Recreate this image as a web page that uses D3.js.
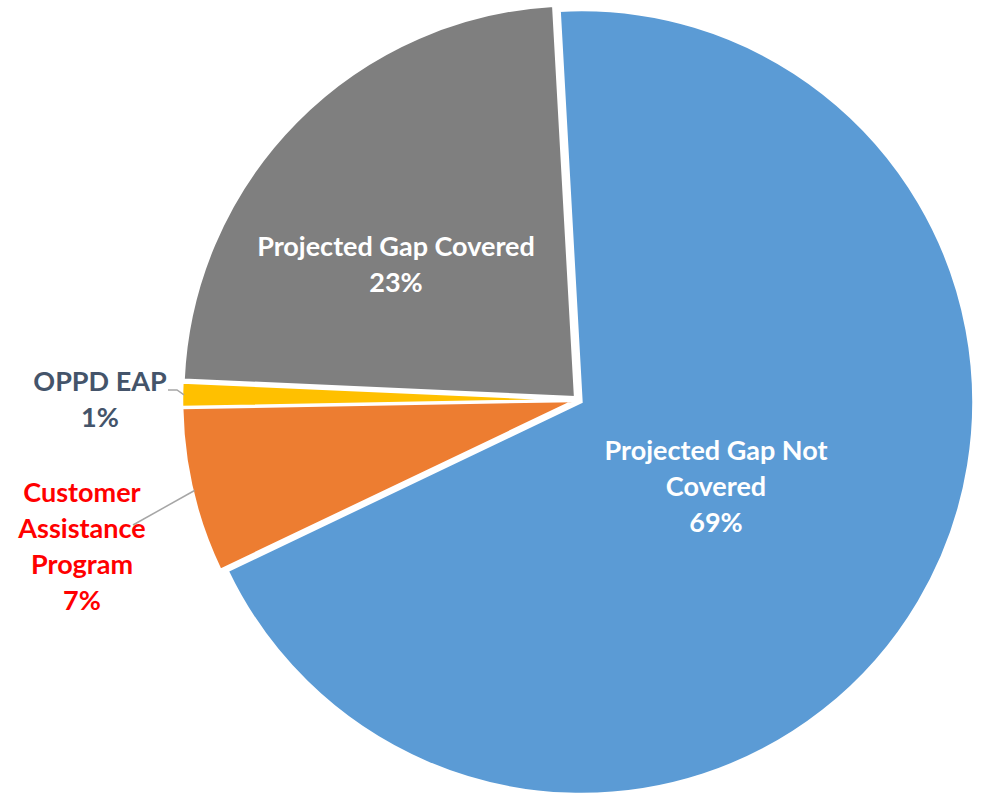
<!DOCTYPE html>
<html>
<head>
<meta charset="utf-8">
<script src="https://cdn.jsdelivr.net/npm/d3@7"></script>
<style>
  html, body { margin: 0; padding: 0; background: #fff; }
  text { font-family: Lato, "Open Sans", sans-serif; font-weight: bold; }
</style>
</head>
<body>
<div id="chart"></div>
<script>
// slices, clockwise from the top
var categories = ["Projected Gap Not Covered", "Customer Assistance Program", "OPPD EAP", "Projected Gap Covered"];
var shares = [68.8, 6.8, 1.0, 23.4];
var labelLines = [
  ["Projected Gap Not", "Covered"],
  ["Customer", "Assistance", "Program"],
  ["OPPD EAP"],
  ["Projected Gap Covered"]
];

var width = 984;
var height = 795;
var cx = 578, cy = 400;
var radius = 392;
var explode = 4;
var startDeg = -3.2;

var colors = ["#5B9BD5", "#ED7D31", "#FFC000", "#7F7F7F"];
var labelColors = ["#ffffff", "#FF0000", "#44546A", "#ffffff"];
// label block centres relative to the pie centre
var labelPos = [[138, 87], [-496, 147], [-478, 0], [-182, -135]];
var leader = [false, true, true, false];
var fontSize = 27;
var lineH = 36;

var svg = d3.select("#chart").append("svg")
  .attr("width", width).attr("height", height);

var g = svg.append("g").attr("transform", `translate(${cx}, ${cy})`);

var start = startDeg * Math.PI / 180;
var pie = d3.pie().sort(null).value(d => d)
  .startAngle(start).endAngle(start + 2 * Math.PI);
var arc = d3.arc().innerRadius(0).outerRadius(radius);
var arcs = pie(shares);

function offset(d, dist) {
  var m = (d.startAngle + d.endAngle) / 2;
  return [dist * Math.sin(m), -dist * Math.cos(m)];
}

g.selectAll("path.slice")
  .data(arcs)
  .enter()
  .append("path")
  .attr("class", "slice")
  .attr("d", arc)
  .attr("transform", d => { var o = offset(d, explode); return `translate(${o[0]}, ${o[1]})`; })
  .style("fill", (d, i) => colors[i])
  .style("stroke", "#fff")
  .style("stroke-width", 2.5)
  .style("stroke-linejoin", "miter");

/* leader lines */
arcs.forEach(function (d, i) {
  if (!leader[i]) return;
  var p = offset(d, radius + explode - 2);
  var lp = labelPos[i];
  var pts;
  if (i === 2) {
    // OPPD EAP: short horizontal run from the end of the text
    pts = [[lp[0] + 68, lp[1] - 10], [lp[0] + 77, lp[1] - 10], [p[0], p[1]]];
  } else {
    pts = [[lp[0] + 51, lp[1] - 22], [p[0], p[1]]];
  }
  g.append("path")
    .attr("d", d3.line()(pts))
    .style("fill", "none")
    .style("stroke", "#A6A6A6")
    .style("stroke-width", 1.5);
});

/* labels */
arcs.forEach(function (d, i) {
  var lines = labelLines[i].concat([Math.round(shares[i]) + "%"]);
  var lp = labelPos[i];
  var top = lp[1] - (lines.length - 1) * lineH / 2;
  var t = g.append("text")
    .attr("text-anchor", "middle")
    .style("fill", labelColors[i])
    .style("font-size", fontSize + "px");
  lines.forEach(function (s, k) {
    t.append("tspan")
      .attr("x", lp[0])
      .attr("y", top + k * lineH + fontSize * 0.35)
      .text(s);
  });
});
</script>
</body>
</html>
